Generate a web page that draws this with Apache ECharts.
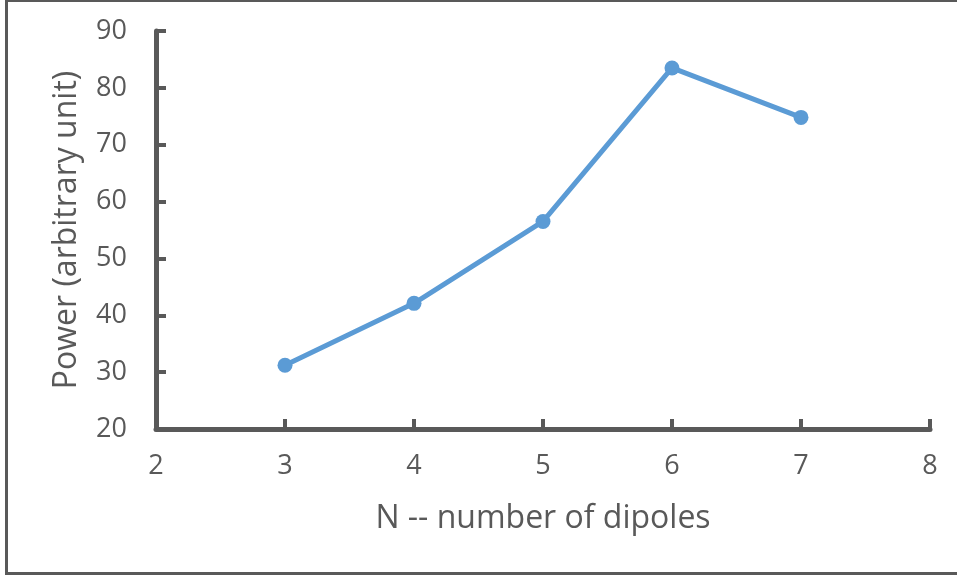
<!DOCTYPE html>
<html>
<head>
<meta charset="utf-8">
<script src="https://cdn.jsdelivr.net/npm/echarts@6/dist/echarts.min.js"></script>
<style>
  html, body { margin: 0; padding: 0; background: #fff; }
  #chart { width: 957px; height: 577px; }
</style>
</head>
<body>
<div id="chart"></div>
<script>
// number of dipoles vs power
const dipoles = [3, 4, 5, 6, 7]
const power = [31.2, 42.1, 56.5, 83.5, 74.8]

const axisColor = '#595959'
const font = '"Open Sans", sans-serif'

const myChart = echarts.init(document.getElementById('chart'))

const option = {
  backgroundColor: '#fff',
  animation: false,
  graphic: [
    {
      type: 'rect',
      shape: { x: 6.5, y: 0.5, width: 1000, height: 573 },
      style: { fill: 'none', stroke: axisColor, lineWidth: 3 }
    }
  ],
  grid: { left: 156, right: 27, top: 31, bottom: 148 },
  xAxis: {
    type: 'value',
    min: 2,
    max: 8,
    interval: 1,
    name: 'N -- number of dipoles',
    nameLocation: 'middle',
    nameGap: 74,
    nameTextStyle: { color: axisColor, fontSize: 32, fontFamily: font },
    axisLine: { show: true, lineStyle: { color: axisColor, width: 5 } },
    axisTick: { show: true, inside: true, length: 10, lineStyle: { color: axisColor, width: 4 } },
    axisLabel: { color: axisColor, fontSize: 27, fontFamily: font, margin: 24 },
    splitLine: { show: false }
  },
  yAxis: {
    type: 'value',
    min: 20,
    max: 90,
    interval: 10,
    name: 'Power (arbitrary unit)',
    nameLocation: 'middle',
    nameGap: 73,
    nameTextStyle: { color: axisColor, fontSize: 32, fontFamily: font },
    axisLine: { show: true, lineStyle: { color: axisColor, width: 5 } },
    axisTick: { show: true, inside: true, length: 10, lineStyle: { color: axisColor, width: 4 } },
    axisLabel: { color: axisColor, fontSize: 27, fontFamily: font, margin: 29 },
    splitLine: { show: false }
  },
  series: [
    {
      type: 'line',
      data: dipoles.map((n, i) => [n, power[i]]),
      symbol: 'circle',
      symbolSize: 15,
      itemStyle: { color: '#5b9bd5' },
      lineStyle: { color: '#5b9bd5', width: 5 }
    }
  ]
}

myChart.setOption(option)
</script>
</body>
</html>
